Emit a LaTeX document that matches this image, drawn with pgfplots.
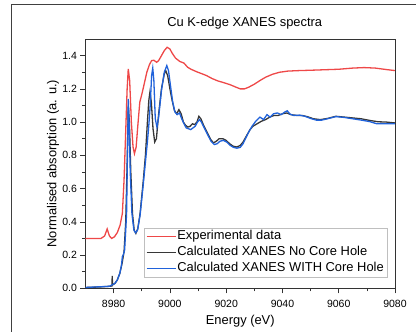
\documentclass[border=0pt]{standalone}
\usepackage{fontspec}
\setmainfont{Liberation Sans}
\usepackage{pgfplots}
\pgfplotsset{compat=1.18}

\definecolor{expred}{RGB}{238,72,72}
\definecolor{nohole}{RGB}{55,55,55}
\definecolor{withhole}{RGB}{32,98,218}

\begin{document}
\begin{tikzpicture}
\path[use as bounding box] (0pt,0pt) rectangle (416pt,332pt);
% outer frame of the figure panel
\draw[black!75, line width=1pt] (11.5pt,0pt) -- (11.5pt,327.5pt) -- (416pt,327.5pt);

\begin{axis}[
  at={(85.5pt,43.7pt)}, anchor=south west,
  scale only axis, width=309.5pt, height=249.3pt,
  xmin=8970, xmax=9080, ymin=0, ymax=1.5,
  xtick={8980,9000,...,9080}, minor x tick num=1,
  ytick={0,0.2,...,1.4}, minor y tick num=1,
  tick align=outside, tick pos=left,
  major tick length=5pt, minor tick length=3pt,
  every tick/.style={black!80, line width=0.6pt},
  axis line style={black!80, line width=0.8pt},
  /pgf/number format/assume math mode=true,
  x tick label style={/pgf/number format/1000 sep={}, font=\fontsize{10.5}{12}\selectfont, yshift=-3.5pt},
  y tick label style={/pgf/number format/.cd, fixed, fixed zerofill, precision=1, /tikz/.cd, font=\fontsize{10.5}{12}\selectfont},
  title={Cu K-edge XANES spectra},
  title style={at={(axis description cs:0.5145,1)}, anchor=center, yshift=9.5pt, font=\fontsize{12.9}{15}\selectfont},
  xlabel={Energy (eV)},
  xlabel style={at={(axis description cs:0.5,0)}, anchor=center, yshift=-32.7pt, font=\fontsize{12.9}{15}\selectfont},
  ylabel={Normalised absorption (a. u.)},
  ylabel style={at={(axis description cs:0,0.5)}, anchor=center, yshift=32.5pt, font=\fontsize{12.9}{15}\selectfont},
  legend style={at={(0.974,0.045)}, anchor=south east, draw=black!25,
    font=\fontsize{12.9}{15}\selectfont, inner xsep=2pt, inner ysep=1.5pt, row sep=2pt,
    nodes={inner sep=1pt, text height=9.5pt, text depth=2.5pt}},
  legend cell align=left,
  legend image code/.code={\draw[#1, line width=1.4pt] (0pt,0pt) -- (29pt,0pt);},
]

% experimental spectrum
\addplot[expred, line width=1.3pt] coordinates {
(8970,0.300) (8975.5,0.300) (8976.8,0.315) (8977.7,0.357) (8978.5,0.315)
(8979.3,0.300) (8980.3,0.310) (8981.3,0.335) (8982.3,0.380) (8983.1,0.450)
(8983.7,0.650) (8984.3,0.950) (8984.8,1.200) (8985.2,1.320) (8985.7,1.250)
(8986.3,1.000) (8986.9,0.850) (8987.4,0.810) (8988.0,0.850) (8988.6,0.980)
(8989.3,1.120) (8990.2,1.180) (8991.0,1.240) (8991.8,1.300) (8992.7,1.345)
(8993.5,1.370) (8994.3,1.372) (8995.3,1.360) (8996.0,1.370) (8997.0,1.400)
(8998.0,1.430) (8999.0,1.450) (9000.0,1.440) (9000.8,1.415) (9002.0,1.385)
(9003.5,1.365) (9005.0,1.355) (9006.3,1.330) (9007.5,1.318) (9009.5,1.303)
(9011.5,1.290) (9013.0,1.280) (9015.0,1.262) (9017.0,1.248) (9019.0,1.238)
(9021.4,1.225) (9023.5,1.210) (9025.0,1.200) (9026.5,1.200) (9028.0,1.210)
(9030.0,1.228) (9032.0,1.250) (9034.0,1.270) (9036.5,1.288) (9039.0,1.300)
(9042.0,1.307) (9046.0,1.310) (9050.0,1.312) (9055.0,1.315) (9060.0,1.318)
(9065.0,1.325) (9069.0,1.328) (9073.0,1.325) (9077.0,1.316) (9080.0,1.310)
};
\addlegendentry{Experimental data}

% calculation without core hole
\addplot[nohole, line width=1.3pt] coordinates {
(8970,0.005) (8975,0.008) (8978.5,0.012) (8979.4,0.014) (8979.5,0.075)
(8979.6,0.020) (8980.5,0.030) (8981.3,0.050) (8982.2,0.090) (8983.0,0.150)
(8983.7,0.220) (8984.3,0.400) (8984.8,0.750) (8985.2,1.100) (8985.6,1.000)
(8986.1,0.700) (8986.7,0.450) (8987.3,0.350) (8987.9,0.330) (8988.6,0.360)
(8989.4,0.450) (8990.5,0.640) (8991.3,0.800) (8992.0,1.000) (8992.5,1.130)
(8992.9,1.180) (8993.4,1.120) (8994.0,0.960) (8994.6,0.880) (8995.2,0.900)
(8996.0,1.050) (8997.0,1.200) (8998.0,1.290) (8998.5,1.310) (8999.2,1.280)
(9000.0,1.200) (9000.8,1.130) (9001.6,1.070) (9002.4,1.050) (9003.2,1.075)
(9004.0,1.050) (9004.8,1.000) (9005.6,0.980) (9006.4,0.970) (9007.2,0.975)
(9008.0,0.990) (9008.8,0.985) (9009.6,1.000) (9010.3,1.035) (9011.0,1.020)
(9012.0,0.980) (9013.2,0.940) (9014.5,0.895) (9015.5,0.875) (9016.5,0.885)
(9017.5,0.900) (9018.8,0.900) (9020.0,0.890) (9021.2,0.870) (9022.5,0.855)
(9023.8,0.850) (9025.0,0.860) (9026.0,0.880) (9027.3,0.920) (9028.5,0.955)
(9029.5,0.975) (9031.0,0.990) (9032.5,1.005) (9034.0,1.015) (9035.5,1.030)
(9037.0,1.040) (9038.5,1.040) (9040.0,1.050) (9041.5,1.055) (9043.0,1.045)
(9045.0,1.040) (9047.0,1.040) (9049.0,1.032) (9051.0,1.020) (9053.5,1.015)
(9056.0,1.022) (9059.0,1.035) (9062.0,1.030) (9065.0,1.025) (9068.0,1.020)
(9071.0,1.010) (9074.0,1.002) (9077.0,1.000) (9080.0,0.995)
};
\addlegendentry{Calculated XANES No Core Hole}

% calculation with core hole
\addplot[withhole, line width=1.3pt] coordinates {
(8970,0.005) (8978.5,0.012) (8980.5,0.030) (8981.3,0.050) (8982.2,0.090)
(8982.8,0.140) (8983.1,0.190) (8983.5,0.205) (8983.9,0.230) (8984.3,0.350)
(8984.6,0.450) (8985.0,0.900) (8985.2,1.140) (8985.5,1.000) (8985.9,0.700)
(8986.5,0.450) (8987.2,0.350) (8987.8,0.334) (8988.5,0.350) (8989.4,0.440)
(8990.5,0.620) (8991.3,0.760) (8992.0,0.880) (8992.5,0.980) (8993.0,1.100)
(8993.5,1.280) (8993.9,1.325) (8994.3,1.250) (8994.8,1.020) (8995.4,0.970)
(8996.0,1.030) (8997.0,1.190) (8998.0,1.300) (8998.9,1.340) (8999.5,1.310)
(9000.2,1.220) (9001.0,1.120) (9001.8,1.060) (9002.6,1.045) (9003.4,1.055)
(9004.2,1.020) (9005.0,0.990) (9005.8,0.965) (9006.6,0.960) (9007.4,0.955)
(9008.2,0.965) (9009.0,0.975) (9009.8,1.000) (9010.5,1.015) (9011.2,1.000)
(9012.2,0.965) (9013.4,0.925) (9014.6,0.885) (9015.8,0.865) (9016.8,0.870)
(9017.8,0.885) (9019.0,0.890) (9020.2,0.880) (9021.4,0.860) (9022.6,0.848)
(9023.8,0.843) (9025.0,0.848) (9026.0,0.870) (9027.0,0.905) (9028.0,0.940)
(9029.2,0.975) (9030.5,1.005) (9032.0,1.030) (9033.3,1.015) (9034.5,1.045)
(9035.6,1.030) (9036.8,1.050) (9038.2,1.055) (9039.5,1.045) (9040.8,1.060)
(9041.7,1.068) (9042.7,1.048) (9044.0,1.040) (9046.0,1.042) (9048.0,1.035)
(9050.0,1.022) (9052.0,1.012) (9054.0,1.012) (9056.0,1.020) (9059.0,1.033)
(9062.0,1.028) (9065.0,1.020) (9068.0,1.012) (9071.0,1.003) (9073.5,0.990)
(9077.0,0.990) (9080.0,0.990)
};
\addlegendentry{Calculated XANES WITH Core Hole}

\end{axis}
\end{tikzpicture}
\end{document}
